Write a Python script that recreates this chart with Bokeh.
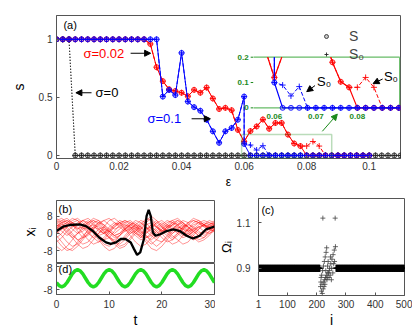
import math
from bokeh.plotting import figure
from bokeh.models import (Range1d, FixedTicker, Label, Arrow, NormalHead,
                          BoxAnnotation, Legend, LegendItem)
from bokeh.layouts import column, row
from bokeh.embed import file_html
from bokeh.resources import INLINE
from bokeh.core.properties import value

FONT = "Liberation Sans"
AX = "#555555"
GREEN = "#1b8a1b"

# ---------------- panel (a) data ----------------
eps = [0.000, 0.002, 0.004, 0.006, 0.008, 0.010, 0.012, 0.014, 0.016, 0.018,
       0.020, 0.022, 0.024, 0.026, 0.028, 0.030, 0.032, 0.034, 0.036, 0.038,
       0.040, 0.042, 0.044, 0.046, 0.048, 0.050, 0.052, 0.054, 0.056, 0.058,
       0.060, 0.062, 0.064, 0.066, 0.068, 0.070, 0.072, 0.074, 0.076, 0.078,
       0.080, 0.082, 0.084, 0.086, 0.088, 0.090, 0.092, 0.094, 0.096, 0.098,
       0.100, 0.102, 0.104, 0.106, 0.108, 0.110]
s_black = [1, 1, 1] + [0] * 53          # sigma = 0 (S and S0 identical)
s0_black = list(s_black)

eps_red = eps[:51]
s_red = [1, 1, 1, 1, 1, 1, 1, 1, 1, 1, 1, 1, 1, 1, 1,
         0.96, 0.76, 0.64, 0.57, 0.555, 0.54, 0.51, 0.565, 0.54, 0.585,
         0.49, 0.40, 0.41, 0.39, 0.22, 0.12, 0.21, 0.25, 0.31, 0.23,
         0.28, 0.28, 0.18, 0.103, 0.081, 0,
         0, 0, 0, 0, 0, 0, 0, 0, 0, 0]
s0_red = [1, 1, 1, 1, 1, 1, 1, 1, 1, 1, 1, 1, 1, 1, 1,
          0.96, 0.76, 0.64, 0.57, 0.555, 0.54, 0.51, 0.565, 0.54, 0.585,
          0.49, 0.40, 0.41, 0.39, 0.22, 0.12, 0.21, 0.25, 0.31, 0.23,
          0.28, 0.28, 0.18, 0.103, 0.081, 0.081,
          0.12, 0.081, 0, 0, 0, 0, 0, 0, 0, 0]

eps_blue = eps[:31] + [0.060] + eps[31:51]
s_blue = [1] * 17 + [0.507, 0.564, 0.52, 0.883, 0.464, 0.416, 0.385, 0.308, 0.208,
                     0.109, 0.208, 0.237, 0.308, 0.507, 0.10] + [0] * 20
s0_blue = [1] * 17 + [0.507, 0.564, 0.52, 0.883, 0.464, 0.416, 0.385, 0.308, 0.208,
                      0.109, 0.208, 0.237, 0.308, 0.507, 0.10,
                      0.09, 0.047, 0.084] + [0] * 17

a_xticks = [0, 0.02, 0.04, 0.06, 0.08, 0.1]
a_xlabels = ["0", "0.02", "0.04", "0.06", "0.08", "0.1"]
a_yticks = [0, 0.5, 1]
a_ylabels = ["0", "0.5", "1"]
inset_yticks = [0.2, 0.1, 0]
inset_ylabels = ["0.2", "0.1", "0"]
inset_xticks = [0.06, 0.07, 0.08]
inset_xlabels = ["0.06", "0.07", "0.08"]

# ---------------- panel (b) data ----------------
t_red = list(range(31))
red_curves = [
    [2, 5, 6, 4, 1, -2, -1, 2, 5, 4, 1, -1, 0, 3, 5, 4, 2, 5, 7, 4, 1, 2, 4, 5, 3, 1, 2, 4, 5, 4, 3],
    [4, 3, 1, -2, -5, -7, -6, -3, 0, 2, 1, -1, -3, -2, 1, 3, 2, -1, -3, -1, 2, 4, 3, 1, -1, 0, 2, 3, 1, 0, 2],
    [-1, -4, -7, -8, -6, -3, 0, 3, 5, 6, 4, 2, 3, 5, 6, 4, 1, -2, -1, 2, 4, 6, 5, 3, 2, 4, 6, 5, 3, 4, 5],
    [6, 7, 5, 3, 4, 6, 5, 2, -1, -3, -2, 1, 4, 6, 5, 3, 1, -1, -4, -6, -4, -1, 2, 4, 5, 3, 1, -1, 0, 2, 4],
    [0, 2, 4, 6, 7, 5, 2, 0, -3, -6, -8, -7, -4, -1, 2, 4, 3, 0, 2, 5, 6, 4, 2, 0, -2, -1, 1, 3, 4, 2, 1],
    [3, 1, -1, 1, 4, 6, 7, 5, 2, 0, 1, 3, 5, 6, 4, 2, 0, 2, 3, 1, -2, -4, -3, 0, 3, 5, 6, 5, 3, 2, 3],
    [-3, -6, -8, -7, -4, -1, 1, 3, 2, 0, -2, -4, -6, -5, -2, 1, 3, 6, 8, 6, 3, 1, 0, 2, 4, 3, 1, -1, -2, 0, 1],
    [5, 6, 4, 2, 0, 1, 3, 4, 3, 1, -2, -5, -7, -6, -3, 0, 2, 4, 5, 3, 0, -3, -5, -4, -1, 2, 4, 5, 6, 5, 4],
    [1, 3, 5, 4, 2, 3, 5, 7, 6, 3, 0, -2, -1, 1, 3, 2, -1, -4, -7, -8, -6, -3, 0, 2, 1, -1, 1, 3, 4, 5, 4],
    [7, 5, 2, -1, -3, -2, 0, 2, 4, 6, 7, 5, 3, 1, 2, 4, 6, 5, 2, 0, 2, 4, 6, 7, 5, 2, -1, -3, -2, 1, 3],
    [2, 4, 3, 0, -3, -5, -4, -1, 2, 3, 1, -1, 0, 2, 4, 5, 3, 1, -1, -3, -4, -2, 1, 3, 2, 0, -2, -1, 1, 3, 2],
    [4, 2, 3, 5, 6, 4, 1, -2, -4, -3, 0, 3, 5, 4, 2, 0, -2, 1, 4, 6, 4, 1, -1, -3, -5, -4, -1, 2, 4, 6, 5],
    [-2, 0, 3, 5, 4, 2, 4, 6, 5, 2, -1, -4, -5, -3, 0, 2, 5, 3, 0, -2, 0, 3, 4, 2, 0, 2, 5, 6, 4, 2, 1],
    [3, 5, 6, 5, 3, 0, -3, -5, -4, -2, 1, 4, 5, 3, 1, -1, -3, -2, 0, 3, 5, 3, 2, 4, 6, 5, 2, 0, 1, 3, 4],
    [5, 3, 0, -2, 0, 3, 5, 6, 4, 1, -2, -3, -1, 2, 4, 6, 5, 3, 1, -1, 1, 3, 5, 4, 1, -1, -3, -2, 1, 4, 6],
    [-4, -2, 1, 3, 5, 6, 4, 1, -2, -5, -6, -4, -1, 2, 4, 3, 0, -3, -5, -3, 0, 2, 4, 6, 5, 3, 0, 2, 4, 3, 2],
    [6, 4, 5, 7, 6, 3, 0, -2, 0, 3, 6, 7, 5, 2, 0, 1, 4, 7, 6, 3, 1, -1, -3, -1, 2, 5, 7, 6, 4, 3, 5],
    [1, -1, -4, -6, -5, -2, 2, 5, 6, 4, 2, 0, 2, 4, 3, 1, -2, 0, 3, 5, 3, 0, -2, 0, 3, 4, 3, 1, -1, 1, 2],
    [3, 6, 7, 5, 2, 4, 6, 4, 1, 0, 3, 5, 4, 2, -1, -4, -6, -5, -2, 1, 3, 5, 6, 4, 2, 1, 3, 5, 4, 2, 4],
    [-6, -8, -6, -3, 0, 2, 3, 1, -1, 0, 2, 4, 6, 5, 3, 0, -1, 2, 4, 3, 1, 3, 5, 6, 4, 1, -2, -4, -3, -1, 2],
]
t_black = [0, 1.25, 2.5, 4.4, 5.6, 6.9, 8.1, 9.4, 10.3, 11.3, 12.2, 13.1, 14.1, 14.7, 15.3,
           15.9, 16.6, 17.1, 17.5, 17.9, 18.3, 18.8, 19.7, 20.9, 22.2, 23.4, 24.7, 25.9,
           27.2, 28.4, 30]
x_black = [1.1, 3.1, 3.9, 4.2, 3.4, 1.1, -1.9, -4.2, -4.9, -4.2, -2.6, -2.6, -4.2, -7.2, -10,
           -8.8, -2.6, 8, 11, 8, 0.4, -1.1, -0.4, 1.1, 1.9, 1.1, -1.1, -2.4, -1.1, 1.9, 3.2]
b_yticks = [-8, 0, 8]
b_ylabels = ["-8", "0", "8"]

# ---------------- panel (d) data ----------------
t_drive = [k * 0.5 for k in range(61)]
drive = [-3, -5.2, -6, -5.2, -3, 0, 3, 5.2, 6, 5.2, 3, 0,
         -3, -5.2, -6, -5.2, -3, 0, 3, 5.2, 6, 5.2, 3, 0,
         -3, -5.2, -6, -5.2, -3, 0, 3, 5.2, 6, 5.2, 3, 0,
         -3, -5.2, -6, -5.2, -3, 0, 3, 5.2, 6, 5.2, 3, 0,
         -3, -5.2, -6, -5.2, -3, 0, 3, 5.2, 6, 5.2, 3, 0,
         -3]
d_xticks = [0, 10, 20, 30]
d_xlabels = ["0", "10", "20", "30"]
d_yticks = [-8, 8]
d_ylabels = ["-8", "8"]

# ---------------- panel (c) data ----------------
band_i = list(range(1, 212)) + list(range(266, 501))
band_omega = [0.9] * len(band_i)
cluster_i = [214, 217, 220, 223, 226, 229, 232, 234,
             236, 240, 244, 248, 252, 256, 260, 264,
             213, 216, 218, 219, 221, 222, 224, 225, 227, 228, 230, 233, 235, 238, 242, 246, 250, 255,
             215, 231, 237, 239, 243, 247, 251, 258, 261,
             221, 263]
cluster_omega = [0.84, 0.87, 0.89, 0.91, 0.93, 0.95, 0.97, 0.99,
                 0.86, 0.88, 0.90, 0.92, 0.94, 0.96, 0.98, 0.995,
                 0.82, 0.80, 0.83, 0.79, 0.77, 0.81, 0.84, 0.82, 0.85, 0.83, 0.86, 0.87, 0.85, 0.88,
                 0.86, 0.87, 0.85, 0.88,
                 0.86, 0.89, 0.91, 0.93, 0.89, 0.95, 0.90, 0.92, 0.93,
                 1.12, 1.12]
c_xticks = [1, 100, 200, 300, 400, 500]
c_xlabels = ["1", "100", "200", "300", "400", "500"]
c_yticks = [0.9, 1.1]
c_ylabels = ["0.9", "1.1"]


# ---------------- helpers ----------------
def style_fig(p):
    p.grid.visible = False
    p.outline_line_color = AX
    p.background_fill_color = "white"
    p.border_fill_color = "white"


def style_axis(ax, ticks, labels, standoff, title=None, title_size="14px", title_standoff=3):
    ax.ticker = FixedTicker(ticks=ticks)
    ax.major_label_overrides = {t: l for t, l in zip(ticks, labels)}
    ax.major_label_text_font = FONT
    ax.major_label_text_font_size = "10px"
    ax.major_label_text_color = "#333333"
    ax.major_label_standoff = standoff
    ax.axis_line_color = AX
    ax.major_tick_line_color = AX
    ax.major_tick_in = 3
    ax.major_tick_out = 0
    ax.minor_tick_line_color = None
    if title is not None:
        ax.axis_label = title
        ax.axis_label_text_font = FONT
        ax.axis_label_text_font_size = title_size
        ax.axis_label_text_font_style = "normal"
        ax.axis_label_text_color = "black"
        ax.axis_label_standoff = title_standoff


def clip_seg(xa, ya, xb, yb, box):
    x0, x1, y0, y1 = box
    dx, dy = xb - xa, yb - ya
    t0, t1 = 0.0, 1.0
    for pp, q in ((-dx, xa - x0), (dx, x1 - xa), (-dy, ya - y0), (dy, y1 - ya)):
        if pp == 0:
            if q < 0:
                return None
        else:
            r = q / pp
            if pp < 0:
                if r > t1:
                    return None
                t0 = max(t0, r)
            else:
                if r < t0:
                    return None
                t1 = min(t1, r)
    return xa + t0 * dx, ya + t0 * dy, xa + t1 * dx, ya + t1 * dy, t0, t1


def clip_polyline(xs, ys, box):
    pieces = []
    cur = None
    for k in range(len(xs) - 1):
        seg = clip_seg(xs[k], ys[k], xs[k + 1], ys[k + 1], box)
        if seg is None:
            cur = None
            continue
        ax_, ay_, bx_, by_, t0, t1 = seg
        if cur is not None and t0 == 0.0:
            cur[0].append(bx_)
            cur[1].append(by_)
        else:
            cur = ([ax_, bx_], [ay_, by_])
            pieces.append(cur)
        if t1 < 1.0:
            cur = None
    return [c[0] for c in pieces], [c[1] for c in pieces]


def inside(xs, ys, box):
    x0, x1, y0, y1 = box
    pts = [(x, y) for x, y in zip(xs, ys) if x0 <= x <= x1 and y0 <= y <= y1]
    return [p_[0] for p_ in pts], [p_[1] for p_ in pts]


def label(p, x, y, text, size="12px", color="black", align="left", **kw):
    p.add_layout(Label(x=x, y=y, text=text, text_font=FONT, text_font_size=size,
                       text_color=color, text_align=align,
                       text_baseline="middle", **kw))


def arrow(p, xs, ys, xe, ye, color="black", **kw):
    p.add_layout(Arrow(end=NormalHead(size=6, fill_color=color, line_color=color, line_width=1),
                       x_start=xs, y_start=ys, x_end=xe, y_end=ye,
                       line_color=color, line_width=1, **kw))


# ---------------- panel (a) ----------------
pa = figure(width=412, height=191, x_range=Range1d(0, 0.11), y_range=Range1d(-0.026, 1.205),
            output_backend="svg", toolbar_location=None,
            min_border_left=56, min_border_right=12, min_border_top=15, min_border_bottom=32)
style_fig(pa)
style_axis(pa.xaxis[0], a_xticks, a_xlabels, 3, title="ε", title_size="12px", title_standoff=2)
style_axis(pa.yaxis[0], a_yticks, a_ylabels, 4, title="s", title_size="14px", title_standoff=9)

pa.extra_x_ranges = {"inset": Range1d(0.0075, 0.0904)}
pa.extra_y_ranges = {"inset": Range1d(-0.2, 0.3647)}
INS = dict(x_range_name="inset", y_range_name="inset")
BOX = (0.055, 0.0902, -0.001, 0.2)

series = [
    (eps, s_black, s0_black, "#222222", "1 2"),
    (eps_red, s_red, s0_red, "red", "solid"),
    (eps_blue, s_blue, s0_blue, "blue", "solid"),
]
legend_renderers = []
for xs, s, s0, col, dash in series:
    pa.line(xs, s0, line_color=col, line_width=1, line_dash="4 2" if dash == "solid" else dash)
    pa.line(xs, s, line_color=col, line_width=1, line_dash=dash)
    rc = pa.scatter(xs, s, marker="circle", size=5, line_color=col, fill_color=col,
                    fill_alpha=0.25, line_width=0.8)
    rx = pa.scatter(xs, s0, marker="cross", size=6, line_color=col, line_width=0.9)
    legend_renderers.append((rc, rx))

# zoom box and arrow to inset
pa.add_layout(BoxAnnotation(left=0.0592, right=0.088, bottom=-0.022, top=0.18,
                            fill_alpha=0, line_color=GREEN, line_width=1.5))
arrow(pa, 0.085, 0.208, 0.0898, 0.356, color=GREEN)

# inset frame
pa.segment(x0=[BOX[0], BOX[0], BOX[1]], y0=[0.2, 0, 0], x1=[BOX[1], BOX[1], BOX[1]],
           y1=[0.2, 0, 0.2], line_color="#66bb66", line_width=1.2, **INS)
pa.segment(x0=[0.0543] * 3, y0=inset_yticks, x1=[0.0549] * 3, y1=inset_yticks,
           line_color=GREEN, line_width=1, **INS)
pa.text(x=[0.0538] * 3, y=inset_yticks, text=inset_ylabels, text_align="right",
        text_baseline="middle", text_font=value(FONT), text_font_size="8px",
        text_font_style="bold", text_color=GREEN, **INS)
pa.text(x=inset_xticks, y=[-0.035] * 3, text=inset_xlabels, text_align="center",
        text_baseline="middle", text_font=value(FONT), text_font_size="8px",
        text_font_style="bold", text_color=GREEN, **INS)

# inset data (clipped to the inset window)
for xs, s, s0, col, dash in series[1:]:
    lx, ly = clip_polyline(xs, s0, BOX)
    pa.multi_line(lx, ly, line_color=col, line_width=1, line_dash="4 2", **INS)
    lx, ly = clip_polyline(xs, s, BOX)
    pa.multi_line(lx, ly, line_color=col, line_width=1.2, **INS)
    mx, my = inside(xs, s, BOX)
    pa.scatter(mx, my, marker="circle", size=5, line_color=col, fill_color=col,
               fill_alpha=0.25, line_width=0.8, **INS)
    mx, my = inside(xs, s0, BOX)
    pa.scatter(mx, my, marker="cross", size=6, line_color=col, line_width=0.9, **INS)

# annotations
label(pa, 0.0022, 1.12, "(a)", size="11px")
label(pa, 0.0086, 0.88, "σ=0.02", color="red", size="13px")
arrow(pa, 0.0237, 0.88, 0.0301, 0.88)
label(pa, 0.0125, 0.54, "σ=0", size="13px")
arrow(pa, 0.0112, 0.54, 0.0062, 0.54)
label(pa, 0.0291, 0.316, "σ=0.1", color="blue", size="13px")
arrow(pa, 0.0432, 0.316, 0.0492, 0.316)
label(pa, 0.0703, 0.105, "S₀", size="13px", **INS)
arrow(pa, 0.0698, 0.088, 0.0678, 0.064, **INS)
label(pa, 0.0864, 0.125, "S₀", size="13px", **INS)
arrow(pa, 0.0861, 0.114, 0.0838, 0.096, **INS)

# legend (samples taken from the black sigma=0 series)
rc_black, rx_black = legend_renderers[0]
leg = Legend(items=[LegendItem(label="S", renderers=[rc_black]),
                    LegendItem(label="S₀", renderers=[rx_black])],
             location=(263, 94), padding=2, spacing=2, glyph_width=10, glyph_height=10,
             label_height=16, label_standoff=18, border_line_alpha=0,
             background_fill_alpha=0, label_text_font=FONT, label_text_font_size="14px",
             margin=0)
pa.add_layout(leg, "center")

# ---------------- panel (b) ----------------
pb = figure(width=215, height=72, x_range=Range1d(0, 30), y_range=Range1d(-14, 15.3),
            output_backend="svg", toolbar_location=None, x_axis_location=None,
            min_border_left=56, min_border_right=1, min_border_top=9, min_border_bottom=0)
style_fig(pb)
style_axis(pb.yaxis[0], b_yticks, b_ylabels, 4, title="xᵢ", title_size="14px", title_standoff=3)
pb.multi_line([t_red] * len(red_curves), red_curves, line_color="red", line_width=0.5,
              line_alpha=0.85)
pb.line(t_black, x_black, line_color="black", line_width=2.3)
label(pb, 0.4, 11.2, "(b)", size="11px")

# ---------------- panel (d) ----------------
pd = figure(width=215, height=67, x_range=Range1d(0, 30), y_range=Range1d(-11.4, 10.3),
            output_backend="svg", toolbar_location=None,
            min_border_left=56, min_border_right=1, min_border_top=0, min_border_bottom=33)
style_fig(pd)
style_axis(pd.xaxis[0], d_xticks, d_xlabels, 5, title="t", title_size="14px", title_standoff=1)
style_axis(pd.yaxis[0], d_yticks, d_ylabels, 4)
pd.line(t_drive, drive, line_color="#22dd22", line_width=3.5)
label(pd, 0.4, 6.3, "(d)", size="11px")

# ---------------- panel (c) ----------------
pc = figure(width=197, height=139, x_range=Range1d(1, 500), y_range=Range1d(0.781, 1.206),
            output_backend="svg", toolbar_location=None,
            min_border_left=37, min_border_right=8, min_border_top=7, min_border_bottom=32)
style_fig(pc)
style_axis(pc.xaxis[0], c_xticks, c_xlabels, 4, title="i", title_size="14px", title_standoff=1)
style_axis(pc.yaxis[0], c_yticks, c_ylabels, 8, title="Ωᵢ", title_size="13px", title_standoff=0)
pc.scatter(band_i, band_omega, marker="cross", size=7, line_color="black", line_width=1)
pc.scatter(cluster_i, cluster_omega, marker="cross", size=5, line_color="#444444",
           line_width=0.8)
label(pc, 11, 1.155, "(c)", size="11px")

layout = column(pa, row(column(pb, pd), pc))
open("out.html", "w").write(file_html(layout, INLINE))
